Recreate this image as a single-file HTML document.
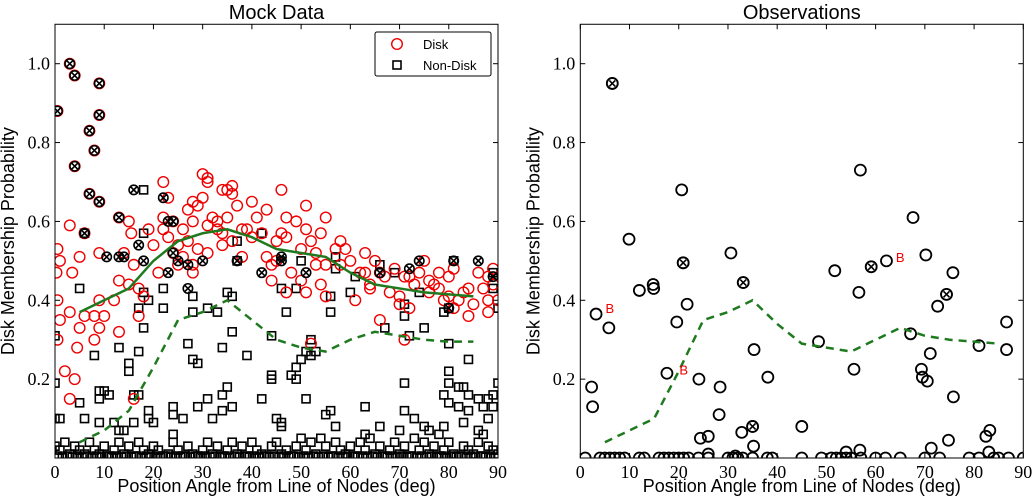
<!DOCTYPE html>
<html><head><meta charset="utf-8"><style>
body{margin:0;background:#fff;}
svg{display:block;}
.tk{font-family:"Liberation Serif",serif;font-size:18px;fill:#000;}
.lb{font-family:"Liberation Sans",sans-serif;font-size:18px;fill:#000;}
.tt{font-family:"Liberation Sans",sans-serif;font-size:20px;fill:#000;}
</style></head><body>
<svg id="c" width="1033" height="500" xmlns="http://www.w3.org/2000/svg"></svg>
<script>
const xTicks=[0,10,20,30,40,50,60,70,80,90];
const yTicks=[0.2,0.4,0.6,0.8,1.0];
const yTickLabels=["0.2","0.4","0.6","0.8","1.0"];
const diskPts=[[0.5,0.88],[3,1.0],[4,0.97],[9,0.95],[9,0.87],[7,0.83],[8,0.78],[4,0.74],[7,0.67],[9,0.65],[3,0.59],[6,0.57],[0.5,0.53],[0.3,0.47],[1,0.5],[3.5,0.47],[5,0.51],[0.5,0.40],[1,0.35],[3,0.37],[5,0.33],[4.5,0.28],[0.5,0.30],[2,0.22],[4,0.20],[3,0.15],[9,0.52],[8,0.36],[9,0.33],[10,0.36],[8,0.30],[9,0.40],[6,0.36],[12,0.40],[13,0.32],[13,0.45],[13,0.61],[14,0.52],[15,0.60],[15.5,0.57],[16,0.49],[15,0.44],[17,0.43],[17,0.36],[18,0.41],[16,0.15],[19,0.58],[20,0.54],[21,0.47],[22,0.70],[22,0.61],[22,0.58],[23,0.56],[23,0.66],[24,0.60],[24,0.52],[25,0.54],[25,0.49],[26,0.58],[26,0.51],[27,0.63],[27,0.55],[28,0.49],[28,0.47],[28,0.60],[28,0.65],[29,0.53],[29,0.64],[30,0.66],[30,0.72],[31,0.71],[31,0.70],[31,0.59],[31,0.52],[32,0.61],[33,0.60],[33,0.58],[34,0.57],[34,0.54],[34,0.68],[35,0.68],[35,0.61],[36,0.69],[36,0.67],[36,0.55],[37,0.64],[38,0.58],[38,0.51],[39,0.58],[40,0.65],[40,0.56],[41,0.61],[42,0.57],[43,0.63],[43,0.51],[44,0.49],[44,0.45],[45,0.55],[45,0.50],[46,0.68],[46,0.57],[47,0.61],[47,0.56],[47,0.42],[48,0.47],[49,0.60],[50,0.45],[50,0.53],[51,0.64],[51,0.42],[51,0.58],[52,0.55],[52,0.29],[53,0.52],[53,0.49],[54,0.57],[54,0.44],[55,0.49],[55,0.41],[55,0.61],[57,0.53],[58,0.55],[58,0.49],[59,0.53],[60,0.50],[61,0.40],[62,0.47],[63,0.47],[63,0.52],[64,0.44],[64,0.43],[65,0.50],[66,0.35],[66,0.47],[67,0.46],[68,0.42],[69,0.48],[70,0.41],[70,0.39],[71,0.30],[71,0.46],[72,0.46],[72,0.38],[73,0.44],[74,0.47],[75,0.50],[76,0.45],[76,0.42],[77,0.44],[78,0.43],[78,0.47],[79,0.40],[80,0.41],[80,0.46],[81,0.48],[81,0.38],[82,0.40],[83,0.42],[84,0.36],[84,0.43],[85,0.39],[86,0.47],[87,0.43],[88,0.40],[88,0.46],[88,0.37],[89,0.48],[89,0.44],[90,0.40]];
const nonDiskPts=[[0,0.31],[0,0.19],[0,0.10],[1,0.10],[5,0.43],[6,0.57],[5,0.14],[6,0.10],[8,0.26],[9,0.15],[9,0.17],[10,0.17],[11,0.16],[9,0.09],[13,0.28],[12,0.09],[13,0.07],[14,0.07],[15,0.24],[15,0.22],[16,0.09],[16,0.16],[17,0.16],[17,0.38],[17,0.27],[18,0.57],[18,0.42],[18,0.68],[19,0.40],[18,0.33],[19,0.12],[19,0.10],[20,0.09],[22,0.38],[22,0.43],[24,0.06],[24,0.13],[24,0.11],[26,0.10],[27,0.29],[28,0.41],[28,0.37],[28,0.25],[29,0.24],[29,0.13],[31,0.38],[31,0.15],[32,0.10],[33,0.37],[34,0.16],[34,0.12],[34,0.28],[35,0.42],[35,0.18],[36,0.41],[36,0.32],[36,0.13],[37,0.55],[37,0.50],[39,0.26],[42,0.57],[42,0.15],[44,0.31],[44,0.21],[44,0.20],[45,0.10],[46,0.09],[46,0.08],[46,0.43],[47,0.37],[48,0.21],[49,0.43],[49,0.23],[49,0.20],[50,0.50],[50,0.25],[51,0.27],[51,0.15],[52,0.26],[52,0.30],[53,0.27],[55,0.11],[56,0.41],[56,0.37],[56,0.12],[57,0.51],[57,0.48],[57,0.08],[60,0.42],[61,0.46],[63,0.13],[63,0.06],[66,0.49],[66,0.08],[67,0.33],[69,0.47],[70,0.07],[71,0.39],[71,0.12],[71,0.36],[71,0.19],[72,0.31],[73,0.10],[74,0.42],[75,0.08],[75,0.33],[76,0.07],[78,0.06],[79,0.37],[79,0.16],[79,0.08],[80,0.38],[80,0.22],[80,0.19],[80,0.14],[80,0.29],[81,0.50],[82,0.18],[82,0.13],[83,0.09],[83,0.18],[84,0.16],[84,0.12],[84,0.25],[86,0.15],[86,0.07],[87,0.13],[87,0.06],[88,0.15],[88,0.10],[89,0.16],[89,0.13],[89,0.47],[89,0.43],[90,0.19],[90,0.38],
[0,0.03],[1,0.02],[2,0.04],[3,0.01],[4,0.03],[5,0.02],[6,0.01],[7,0.04],[8,0.02],[9,0.01],[10,0.03],[11,0.005],[12,0.02],[13,0.04],[14,0.01],[15,0.03],[16,0.005],[17,0.04],[18,0.02],[19,0.01],[20,0.03],[21,0.02],[22,0.005],[23,0.01],[24,0.04],[25,0.02],[26,0.005],[27,0.03],[28,0.01],[29,0.005],[30,0.02],[31,0.04],[32,0.01],[33,0.03],[34,0.005],[35,0.02],[36,0.04],[37,0.01],[38,0.03],[39,0.005],[40,0.04],[41,0.02],[42,0.01],[43,0.005],[44,0.03],[45,0.04],[46,0.01],[47,0.02],[48,0.005],[49,0.03],[50,0.05],[51,0.02],[52,0.04],[53,0.01],[54,0.05],[55,0.03],[56,0.005],[57,0.04],[58,0.02],[59,0.01],[60,0.03],[61,0.005],[62,0.04],[63,0.02],[64,0.05],[65,0.01],[66,0.03],[67,0.005],[68,0.02],[69,0.04],[70,0.01],[71,0.03],[72,0.005],[73,0.05],[74,0.02],[75,0.04],[76,0.01],[77,0.03],[78,0.005],[79,0.02],[80,0.04],[81,0.01],[82,0.005],[83,0.03],[84,0.02],[85,0.01],[86,0.04],[87,0.005],[88,0.03],[89,0.02],[90,0.01],
[0.5,0.005],[1.5,0.002],[2.5,0.005],[3.5,0.002],[4.5,0.005],[5.5,0.002],[6.5,0.005],[7.5,0.002],[8.5,0.005],[9.5,0.002],[10.5,0.005],[11.5,0.002],[12.5,0.005],[13.5,0.002],[14.5,0.005],[15.5,0.002],[16.5,0.005],[17.5,0.002],[18.5,0.005],[19.5,0.002],[20.5,0.005],[21.5,0.002],[22.5,0.005],[23.5,0.002],[24.5,0.005],[25.5,0.002],[26.5,0.005],[27.5,0.002],[28.5,0.005],[29.5,0.002],[30.5,0.005],[31.5,0.002],[32.5,0.005],[33.5,0.002],[34.5,0.005],[35.5,0.002],[36.5,0.005],[37.5,0.002],[38.5,0.005],[39.5,0.002],[40.5,0.005],[41.5,0.002],[42.5,0.005],[43.5,0.002],[44.5,0.005],[45.5,0.002],[46.5,0.005],[47.5,0.002],[48.5,0.005],[49.5,0.002],[50.5,0.005],[51.5,0.002],[52.5,0.005],[53.5,0.002],[54.5,0.005],[55.5,0.002],[56.5,0.005],[57.5,0.002],[58.5,0.005],[59.5,0.002],[60.5,0.005],[61.5,0.002],[62.5,0.005],[63.5,0.002],[64.5,0.005],[65.5,0.002],[66.5,0.005],[67.5,0.002],[68.5,0.005],[69.5,0.002],[70.5,0.005],[71.5,0.002],[72.5,0.005],[73.5,0.002],[74.5,0.005],[75.5,0.002],[76.5,0.005],[77.5,0.002],[78.5,0.005],[79.5,0.002],[80.5,0.005],[81.5,0.002],[82.5,0.005],[83.5,0.002],[84.5,0.005],[85.5,0.002],[86.5,0.005],[87.5,0.002],[88.5,0.005],[89.5,0.002]];
const crossedMock=[[0.5,0.88],[3,1.0],[4,0.97],[9,0.95],[9,0.87],[7,0.83],[8,0.78],[4,0.74],[7,0.67],[9,0.65],[6,0.57],[10.5,0.51],[13,0.61],[13,0.51],[14,0.51],[17,0.54],[16,0.68],[18,0.50],[22,0.66],[23,0.47],[23,0.60],[24,0.52],[24,0.60],[25,0.50],[27,0.49],[27,0.43],[30,0.50],[37,0.50],[42,0.47],[46,0.51],[46,0.50],[51,0.47],[66,0.47],[72,0.48],[74,0.50],[81,0.50],[86,0.50],[89,0.46],[80,0.38]];
const trendX=[5,10,15,20,25,30,35,40,45,50,55,60,65,70,75,80,85];
const diskTrend=[0.37,0.40,0.43,0.50,0.55,0.57,0.58,0.56,0.53,0.52,0.51,0.47,0.44,0.43,0.42,0.415,0.41];
const mockDashed=[0.04,0.07,0.12,0.23,0.35,0.37,0.40,0.35,0.30,0.28,0.27,0.30,0.32,0.31,0.30,0.295,0.295];
const obsDashed=[0.04,0.07,0.10,0.22,0.35,0.37,0.40,0.34,0.29,0.28,0.27,0.30,0.33,0.31,0.30,0.295,0.29];
const obsPts=[[6.5,0.95],[2.3,0.18],[2.5,0.13],[3.2,0.365],[5.8,0.33],[9.9,0.555],[12,0.425],[14.8,0.44],[14.9,0.43],[17.6,0.215],[19.6,0.345],[20.6,0.68],[20.9,0.495],[21.7,0.39],[24.1,0.20],[24.4,0.05],[26,0.055],[28.2,0.11],[28.4,0.18],[30.6,0.52],[32.8,0.065],[33.1,0.445],[35,0.08],[35.3,0.275],[35.2,0.03],[38.1,0.205],[45,0.08],[48.4,0.295],[51.7,0.475],[55.6,0.225],[56.6,0.42],[56.9,0.73],[59.1,0.485],[62.2,0.50],[67.1,0.315],[67.6,0.61],[69.3,0.225],[69.5,0.205],[70.2,0.515],[70.5,0.195],[71.1,0.265],[72.6,0.385],[74.4,0.415],[75.7,0.47],[75.8,0.155],[81,0.285],[86.6,0.345],[86.6,0.275],[74.8,0.045],[71.3,0.025],[82.4,0.055],[83.2,0.07],[83,0.015],[54,0.015],[56.8,0.02],[26,0.01],[31.5,0.005],
[1,0],[4,0],[5,0],[6,0],[7,0],[8,0],[9,0],[12,0],[13,0],[16,0],[17,0],[18,0],[19,0],[20,0],[21,0],[22,0],[24,0],[26,0],[30,0],[31,0],[32,0],[33,0],[35,0],[38,0],[39,0],[45,0],[49,0],[51,0],[52,0],[53,0],[54,0],[55,0],[57,0],[60,0],[62,0],[65,0],[70,0],[73,0],[79,0],[81,0],[84,0],[85,0],[87,0],[90,0]];
const crossedObs=[[6.5,0.95],[20.9,0.495],[33.1,0.445],[35,0.08],[59.1,0.485],[74.4,0.415]];
const bLabels=[[6,0.38],[21,0.225],[65,0.51]];

const svg=document.getElementById('c');const NS='http://www.w3.org/2000/svg';
function mk(t,a,p){const e=document.createElementNS(NS,t);for(const k in a)e.setAttribute(k,a[k]);(p||svg).appendChild(e);return e;}
const Y0=458,Y1=63.7;
function yS(v){return Y0-(Y0-Y1)*v;}
function panel(x0,x90,name){
  const g=mk('g',{});
  
  
  const xS=v=>x0+(x90-x0)*v/90;
  const clipId='clip-'+name;
  const cp=mk('clipPath',{id:clipId},g);mk('rect',{x:x0,y:yS(1.1),width:x90-x0,height:Y0-yS(1.1)},cp);
  const plot=mk('g',{'clip-path':'url(#'+clipId+')'},g);
  
  
  return {g,plot,xS};
}
function frame(p,x0,x90,title,name){
  const g=p.g,xS=p.xS;
  const r=mk('rect',{x:x0,y:yS(1.1),width:x90-x0,height:Y0-yS(1.1),fill:'none',stroke:'#000','stroke-width':1},g);
  
  
  xTicks.forEach(t=>{const x=xS(t);mk('line',{x1:x,x2:x,y1:Y0,y2:Y0-5,stroke:'#000'},g);mk('line',{x1:x,x2:x,y1:yS(1.1),y2:yS(1.1)+5,stroke:'#000'},g);
    const tx=mk('text',{x:x,y:Y0+20,'text-anchor':'middle',class:'tk'},g);tx.textContent=t;
    
    });
  yTicks.forEach((t,i)=>{const y=yS(t);mk('line',{x1:x0,x2:x0+5,y1:y,y2:y,stroke:'#000'},g);mk('line',{x1:x90,x2:x90-5,y1:y,y2:y,stroke:'#000'},g);
    const tx=mk('text',{x:x0-5,y:y+6,'text-anchor':'end',class:'tk'},g);tx.textContent=yTickLabels[i];
    
    });
  const tt=mk('text',{x:(x0+x90)/2,y:19,'text-anchor':'middle',class:'tt'},g);tt.textContent=title;
  
  
  const xl=mk('text',{x:(x0+x90)/2,y:492,'text-anchor':'middle',class:'lb'},g);xl.textContent='Position Angle from Line of Nodes (deg)';
  
  
  const yl=mk('text',{x:0,y:0,'text-anchor':'middle',class:'lb',transform:'translate('+(x0-41)+','+((Y0+yS(1.1))/2)+') rotate(-90)'},g);yl.textContent='Disk Membership Probability';
  
  
}
function line(p,ys,dash,name){
  const d=trendX.map((x,i)=>(i?'L':'M')+p.xS(x)+','+yS(ys[i])).join(' ');
  const l=mk('path',{d:d,fill:'none',stroke:'#1f7a1f','stroke-width':2.5,'stroke-dasharray':dash||'none'},p.plot);
  
  
}
function cross(p,pts,r){pts.forEach(q=>{const x=p.xS(q[0]),y=yS(q[1]);
  const c=mk('circle',{cx:x,cy:y,r:r,fill:'none',stroke:'#000','stroke-width':1.6},p.plot);
  
  
  mk('path',{d:`M${x-3},${y-3}L${x+3},${y+3}M${x-3},${y+3}L${x+3},${y-3}`,stroke:'#000','stroke-width':1.6},p.plot);});}

const L=panel(55,498,'mock-panel');
nonDiskPts.forEach(q=>{const s=mk('rect',{x:L.xS(q[0])-4,y:yS(q[1])-4,width:8,height:8,fill:'none',stroke:'#000','stroke-width':1.6},L.plot);
  
  });
diskPts.forEach(q=>{const c=mk('circle',{cx:L.xS(q[0]),cy:yS(q[1]),r:5.3,fill:'none',stroke:'#e00','stroke-width':1.4},L.plot);
  
  });
cross(L,crossedMock,4.7);
line(L,diskTrend,null,'disk-trend-line');
line(L,mockDashed,'8,6','mock-dashed-line');
frame(L,55,498,'Mock Data','mock');
const lg=mk('g',{});


mk('rect',{x:375,y:32,width:116,height:44,rx:2,fill:'#fff',stroke:'#000','stroke-width':1},lg);
mk('circle',{cx:397,cy:44,r:5.3,fill:'none',stroke:'#e00','stroke-width':1.4},lg);
const t1=mk('text',{x:423,y:49,class:'lb'},lg);t1.textContent='Disk';t1.style.fontSize='13px';


mk('rect',{x:393,y:61,width:8,height:8,fill:'none',stroke:'#000','stroke-width':1.6},lg);
const t2=mk('text',{x:423,y:70,class:'lb'},lg);t2.textContent='Non-Disk';t2.style.fontSize='13px';



const R=panel(580.3,1023.3,'observations-panel');
obsPts.forEach(q=>{const c=mk('circle',{cx:R.xS(q[0]),cy:yS(q[1]),r:5.5,fill:'none',stroke:'#000','stroke-width':1.8},R.plot);
  
  });
cross(R,crossedObs,5.5);
line(R,obsDashed,'8,6','observations-dashed-line');
bLabels.forEach(q=>{const t=mk('text',{x:R.xS(q[0]),y:yS(q[1])+5,'text-anchor':'middle',class:'lb'},R.g);t.textContent='B';t.style.fontSize='13px';t.style.fill='#e00';
  
  });
frame(R,580.3,1023.3,'Observations','observations');
</script>
</body></html>
